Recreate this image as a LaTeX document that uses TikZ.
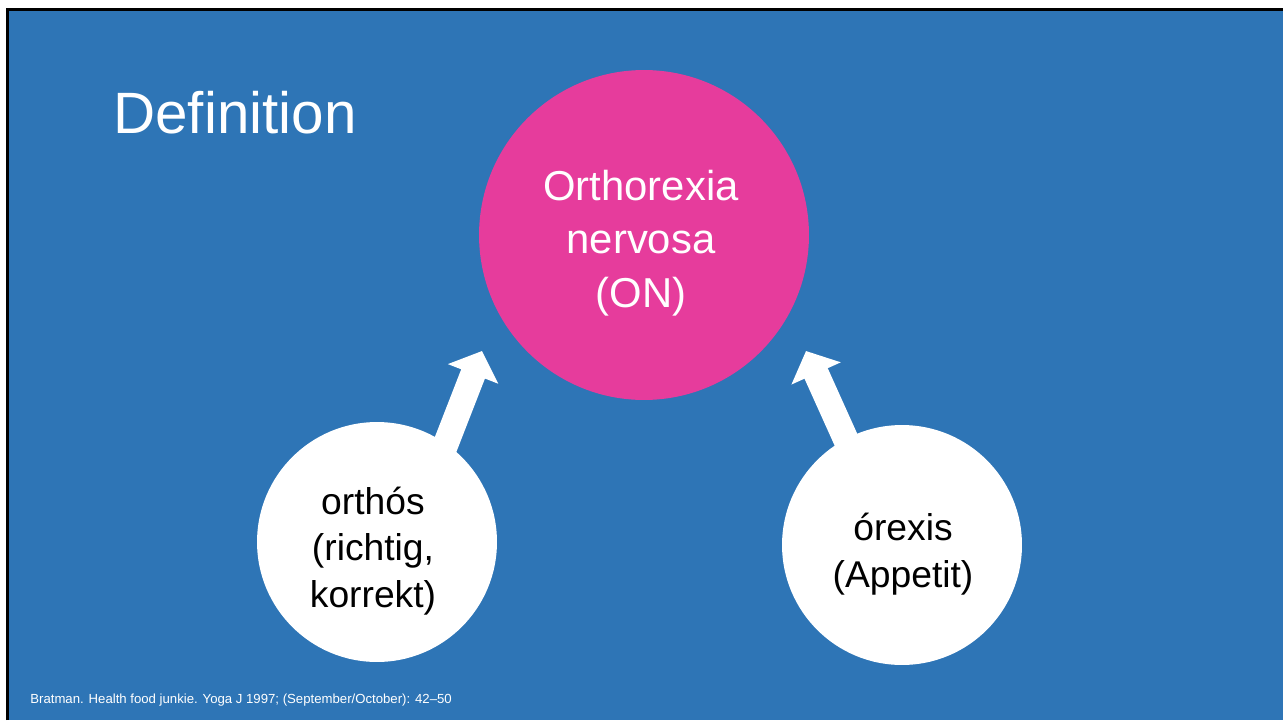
\documentclass[tikz,border=0pt]{standalone}
\usepackage{fontspec}
\setmainfont{Liberation Sans}
\usetikzlibrary{arrows.meta}
\definecolor{slideblue}{HTML}{2E75B6}
\definecolor{onpink}{HTML}{E63C9C}
\begin{document}
\begin{tikzpicture}[x=0.02cm,y=-0.02cm,
	bubble/.style={circle,fill=white,inner sep=0pt,minimum size=4.8cm},
	bubbletext/.style={align=center,inner sep=0pt,font=\fontsize{21.2}{26.5}\selectfont},
	bigarrow/.style={white,line width=14.5pt,shorten <=-12pt,-{Triangle[width=30pt,length=14pt]}}]
	\useasboundingbox (0,0) rectangle (1283,720);
	\fill[white] (0,0) rectangle (1283,720);
	\fill[slideblue] (9,11) rectangle (1283,720);
	\draw[line width=1.7pt] (7.5,720)--(7.5,9.5)--(1283,9.5);
	\node[anchor=base west,text=white,inner sep=0pt,font=\fontsize{33.2}{38}\selectfont](title) at (113,133){Definition};
	\node[circle,fill=onpink,inner sep=0pt,minimum size=6.6cm](on) at (644,235){};
	\node[align=center,text=white,inner sep=0pt,font=\fontsize{23.8}{30.6}\selectfont](ontext) at (641,243){Orthorexia\\nervosa\\(ON)};
	\coordinate (ltip) at (482,351);
	\coordinate (rtip) at (806,351);
	\node[bubble](ortho) at (377,542){};
	\node[bubble](orexis) at (902,545){};
	\node[bubbletext](orthotext) at (373,551){orth\'os\\(richtig,\\korrekt)};
	\node[bubbletext](orexistext) at (903,554){\'orexis\\(Appetit)};
	\draw[bigarrow] (ortho.55)--(ltip);
	\draw[bigarrow] (orexis.118)--(rtip);
	\node[anchor=base west,text=white,inner sep=0pt,font=\fontsize{7.5}{9}\selectfont](ref) at (30,703){Bratman. Health food junkie. Yoga J 1997; (September/October): 42--50};
\end{tikzpicture}
\end{document}
